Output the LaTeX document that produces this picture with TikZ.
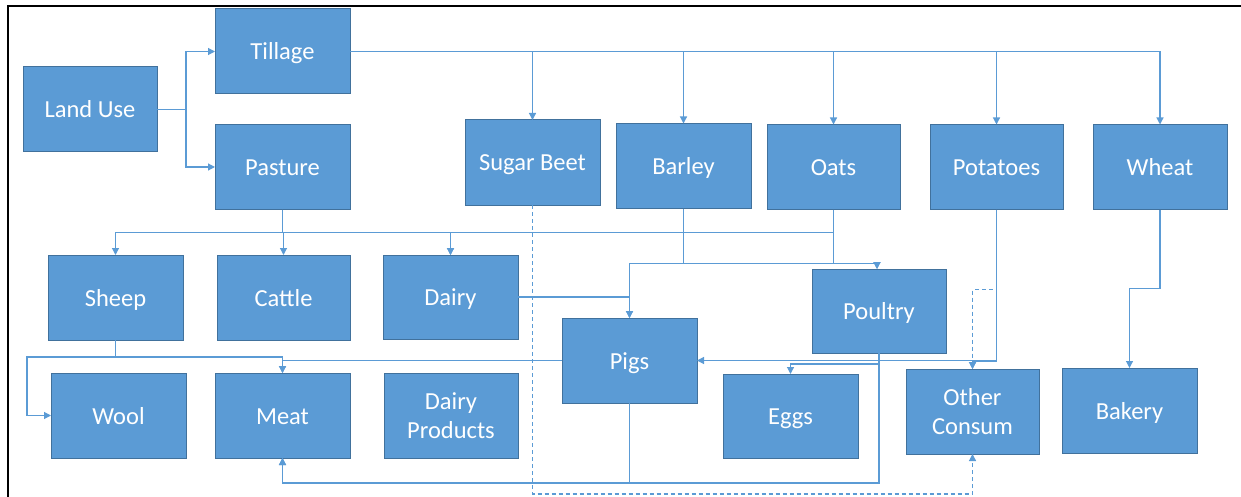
\documentclass[tikz,border=0pt]{standalone}
\usepackage{fontspec}
\setmainfont{Carlito}
\usetikzlibrary{arrows.meta}
\definecolor{boxfill}{HTML}{5B9BD5}
\definecolor{boxline}{HTML}{41719C}
\definecolor{conncol}{HTML}{5B9BD5}
\tikzset{
  box/.style={draw=boxline, line width=1pt, fill=boxfill, text=white,
    minimum width=135pt, minimum height=85pt, inner sep=0pt, outer sep=0pt,
    align=center, font=\fontsize{24.5}{29.5}\selectfont},
  onebox/.style={box, text height=17pt, text depth=0pt},
  conn/.style={draw=conncol, line width=1.2pt, -{Triangle[length=7pt,width=7pt]}},
  dconn/.style={conn, dash pattern=on 4pt off 3pt}
}
\begin{document}
\begin{tikzpicture}[x=1pt,y=-1pt]
\useasboundingbox (0,0) rectangle (1241,497);
\draw[line width=2pt] (8,497) -- (8,6) -- (1241,6);

\node[onebox, minimum width=134pt] (landuse) at (90,109.5) {Land Use};
\node[onebox] (tillage) at (282.5,51.5) {Tillage};
\node[onebox] (pasture) at (282.5,167) {Pasture};
\node[onebox] (sugar) at (532.5,162.5) {Sugar Beet};
\node[onebox] (barley) at (683.5,166) {Barley};
\node[onebox, minimum width=133pt] (oats) at (833.5,167) {Oats};
\node[onebox, minimum width=133pt] (potatoes) at (996.5,167) {Potatoes};
\node[onebox, minimum width=134pt] (wheat) at (1160,167) {Wheat};
\node[onebox] (sheep) at (115.5,297.5) {Sheep};
\node[onebox, minimum width=133pt] (cattle) at (283.5,297.5) {Cattle};
\node[onebox, minimum height=84pt] (dairy) at (450.5,297) {Dairy};
\node[onebox] (wool) at (118.5,415.5) {Wool};
\node[onebox] (meat) at (282.5,415.5) {Meat};
\node[box, minimum width=134pt] (dairyprod) at (451,415.5) {Dairy\\Products};
\node[onebox] (pigs) at (629.5,360.5) {Pigs};
\node[onebox, minimum height=84pt] (eggs) at (790.5,416) {Eggs};
\node[onebox, minimum width=134pt, minimum height=84pt] (poultry) at (879,311) {Poultry};
\node[box, minimum width=133pt] (other) at (972.5,411.5) {Other\\Consum};
\node[onebox] (bakery) at (1129.5,410.5) {Bakery};

% Land use
\draw[conn] (landuse.east) -- ++(29,0) |- (tillage.west);
\draw[conn] (landuse.east) -- ++(29,0) |- (pasture.west);
% Tillage to crops
\draw[conn] (tillage.east) -| (sugar.north);
\draw[conn] (tillage.east) -| (barley.north);
\draw[conn] (tillage.east) -| (oats.north);
\draw[conn] (tillage.east) -| (potatoes.north);
\draw[conn] (tillage.east) -| (wheat.north);
% Pasture to livestock
\draw[conn] (pasture.south) -- ++(0,23) -| (sheep.north);
\draw[conn] (pasture.south) -- ++(0,23) -| (cattle.north);
\draw[conn] (pasture.south) -- ++(0,23) -| (dairy.north);
\draw[conn] (oats.south) -- ++(0,23) -| (dairy.north);
% Barley / Oats to Pigs, Poultry
\draw[conn] (barley.south) -- ++(0,55) -| (pigs.north);
\draw[conn] (barley.south) -- ++(0,55) -| ([xshift=-2pt]poultry.north);
\draw[conn] (oats.south) -- ++(0,54) -| ([xshift=-2pt]poultry.north);
\draw[conn] (dairy.east) -| (pigs.north);
% Sheep
\draw[conn] (sheep.south) -- ++(0,17) -| ([xshift=-24pt]wool.west) -- (wool.west);
\draw[conn] (sheep.south) -- ++(0,17) -| (meat.north);
% Pigs
\draw[conn] (pigs.west) -| (meat.north);
\draw[conn] (pigs.south) -- ++(0,80) -| (meat.south);
% Poultry
\draw[conn] (poultry.south) -- ++(0,130) -| (meat.south);
\draw[conn] (poultry.south) -- ++(0,11) -| (eggs.north);
% Potatoes
\draw[conn] (potatoes.south) |- (pigs.east);
\draw[conn] (potatoes.south) |- ([yshift=8pt]other.north) -- (other.north);
\draw[dconn] (potatoes.south) -- ++(0,80) -| (other.north);
% Sugar beet
\draw[dconn] (sugar.south) -- ++(0,289) -| (other.south);
% Wheat
\draw[conn] (wheat.south) -- ++(0,79) -| (bakery.north);
\end{tikzpicture}
\end{document}
